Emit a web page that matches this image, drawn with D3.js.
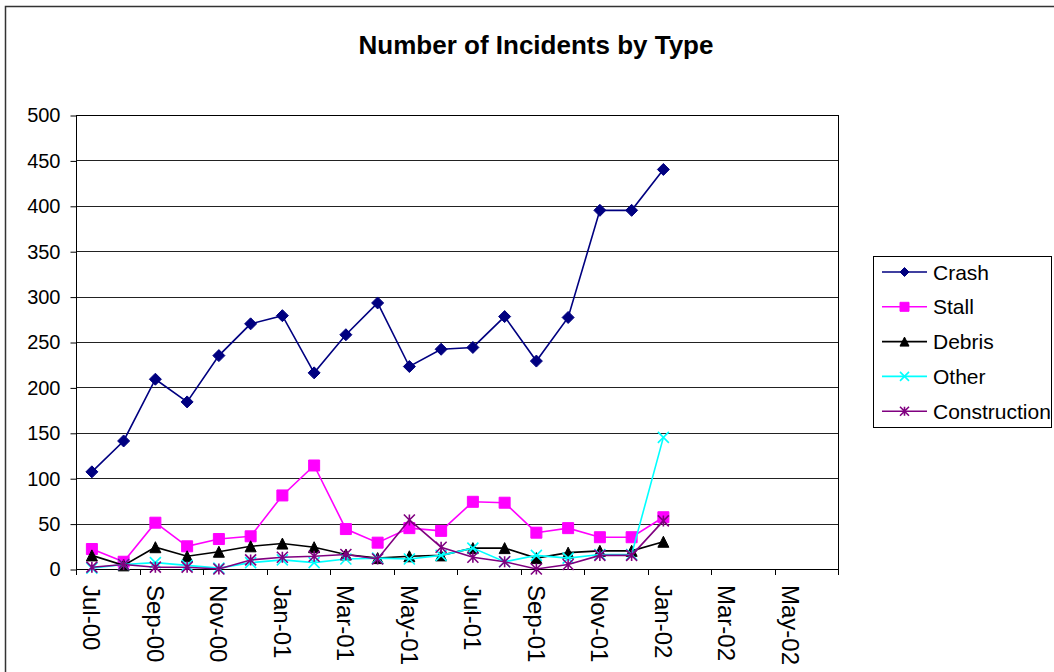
<!DOCTYPE html>
<html>
<head>
<meta charset="utf-8">
<script src="https://cdn.jsdelivr.net/npm/d3@7"></script>
<style>
    body { margin: 0; background: #fff; }
    svg { display: block; font-family: "Liberation Sans", Arial, sans-serif; }
</style>
</head>
<body>
<svg id="chart" width="1054" height="672"></svg>
<script>
    // months along the category axis (Jul-00 .. Jun-02)
    var months = ['Jul-00', 'Aug-00', 'Sep-00', 'Oct-00', 'Nov-00', 'Dec-00',
                  'Jan-01', 'Feb-01', 'Mar-01', 'Apr-01', 'May-01', 'Jun-01',
                  'Jul-01', 'Aug-01', 'Sep-01', 'Oct-01', 'Nov-01', 'Dec-01',
                  'Jan-02', 'Feb-02', 'Mar-02', 'Apr-02', 'May-02', 'Jun-02'];
    var monthLabels = ['Jul-00', 'Sep-00', 'Nov-00', 'Jan-01', 'Mar-01', 'May-01',
                       'Jul-01', 'Sep-01', 'Nov-01', 'Jan-02', 'Mar-02', 'May-02'];
    var yTicks = [0, 50, 100, 150, 200, 250, 300, 350, 400, 450, 500];

    var seriesNames = ['Crash', 'Stall', 'Debris', 'Other', 'Construction'];
    var crash = [107, 141, 209, 184, 235, 270, 279, 216, 258, 293, 223, 242, 244, 278, 229, 277, 395, 395, 440];
    var stall = [22, 8, 51, 25, 33, 36, 81, 114, 44, 29, 45, 42, 74, 73, 40, 45, 35, 35, 57];
    var debris = [15, 4, 24, 14, 19, 25, 28, 24, 16, 12, 14, 15, 23, 23, 12, 18, 20, 20, 30];
    var other = [1, 5, 7, 4, 1, 7, 10, 7, 11, 12, 11, 15, 23, 8, 15, 12, 16, 16, 145];
    var construction = [2, 5, 2, 2, 0, 10, 13, 14, 16, 11, 54, 24, 13, 8, 0, 5, 15, 15, 53];

    (function () {
        var colors = ['#000080', '#ff00ff', '#000000', '#00ffff', '#800080'];
        var symbols = ['diamond', 'square', 'triangle', 'cross', 'star'];

        var svg = d3.select('#chart');

        var plotLeft = 76, plotRight = 838, plotTop = 115, plotBottom = 569;

        var x = d3.scaleBand().domain(months).range([plotLeft, plotRight]);
        var y = d3.scaleLinear().domain([0, 500]).range([plotBottom, plotTop]);

        // outer chart border
        svg.append('rect')
            .attr('x', 5.5).attr('y', 6.5)
            .attr('width', 1060).attr('height', 700)
            .attr('fill', 'none').attr('stroke', '#333').attr('stroke-width', 1.5);

        svg.append('text')
            .attr('x', 536).attr('y', 54)
            .attr('text-anchor', 'middle')
            .style('font-size', '26px').style('font-weight', 'bold')
            .text('Number of Incidents by Type');

        // gridlines
        svg.append('g').selectAll('line')
            .data(yTicks)
            .enter().append('line')
            .attr('x1', plotLeft).attr('x2', plotRight)
            .attr('y1', function (d) { return Math.round(y(d)) + 0.5; })
            .attr('y2', function (d) { return Math.round(y(d)) + 0.5; })
            .attr('stroke', '#222').attr('stroke-width', 1);

        // plot area outline
        svg.append('rect')
            .attr('x', plotLeft + 0.5).attr('y', plotTop + 0.5)
            .attr('width', plotRight - plotLeft).attr('height', plotBottom - plotTop)
            .attr('fill', 'none').attr('stroke', '#000').attr('stroke-width', 1);

        // y axis
        var yAxis = svg.append('g')
            .attr('transform', 'translate(' + (plotLeft + 0.5) + ',0.5)')
            .call(d3.axisLeft(y).tickValues(yTicks).tickSize(6).tickPadding(10));
        yAxis.select('.domain').remove();
        yAxis.selectAll('text')
            .style('font-size', '20px')
            .style('font-family', '"Liberation Sans", Arial, sans-serif')
            .attr('fill', '#000');

        // x axis: ticks every 2 months on category boundaries
        var tickX = months.filter(function (m, i) { return i % 2 === 0; })
            .map(function (m) { return x(m); });
        tickX.push(plotRight);
        svg.append('g').selectAll('line')
            .data(tickX)
            .enter().append('line')
            .attr('x1', function (d) { return Math.round(d) + 0.5; })
            .attr('x2', function (d) { return Math.round(d) + 0.5; })
            .attr('y1', plotBottom).attr('y2', plotBottom + 6)
            .attr('stroke', '#000');

        svg.append('g').selectAll('text')
            .data(monthLabels)
            .enter().append('text')
            .attr('transform', function (d) {
                return 'translate(' + (x(d) + x.bandwidth() / 2) + ',' + (plotBottom + 16) + ') rotate(90)';
            })
            .attr('dy', '0.35em')
            .style('font-size', '24px')
            .text(function (d) { return d; });

        function markerPath(sym, size) {
            var h = size / 2;
            if (sym === 'diamond') return 'M0,' + (-h) + 'L' + h + ',0L0,' + h + 'L' + (-h) + ',0Z';
            if (sym === 'square') return 'M' + (-h) + ',' + (-h) + 'H' + h + 'V' + h + 'H' + (-h) + 'Z';
            if (sym === 'triangle') return 'M0,' + (-h) + 'L' + h + ',' + h + 'L' + (-h) + ',' + h + 'Z';
            if (sym === 'cross') return 'M' + (-h) + ',' + (-h) + 'L' + h + ',' + h + 'M' + h + ',' + (-h) + 'L' + (-h) + ',' + h;
            return 'M' + (-h) + ',' + (-h) + 'L' + h + ',' + h + 'M' + h + ',' + (-h) + 'L' + (-h) + ',' + h + 'M0,' + (-h) + 'V' + h;
        }

        function drawMarker(g, sym, color, size) {
            var filled = sym === 'diamond' || sym === 'square' || sym === 'triangle';
            g.append('path')
                .attr('d', markerPath(sym, size))
                .attr('fill', filled ? color : 'none')
                .attr('stroke', color)
                .attr('stroke-width', filled ? 1 : 1.6);
        }

        var allSeries = [crash, stall, debris, other, construction];
        var line = d3.line()
            .x(function (d, i) { return x(months[i]) + x.bandwidth() / 2; })
            .y(function (d) { return y(d); });

        allSeries.forEach(function (values, s) {
            var g = svg.append('g');
            g.append('path')
                .attr('d', line(values))
                .attr('fill', 'none')
                .attr('stroke', colors[s])
                .attr('stroke-width', 1.6);
            values.forEach(function (v, i) {
                var m = g.append('g')
                    .attr('transform', 'translate(' + (x(months[i]) + x.bandwidth() / 2) + ',' + y(v) + ')');
                drawMarker(m, symbols[s], colors[s], s === 0 ? 12 : 11);
            });
        });

        // legend
        var legend = svg.append('g');
        legend.append('rect')
            .attr('x', 873.5).attr('y', 256.5)
            .attr('width', 178).attr('height', 171)
            .attr('fill', '#fff').attr('stroke', '#000');
        seriesNames.forEach(function (name, i) {
            var ly = 272 + i * 34.8;
            legend.append('line')
                .attr('x1', 882).attr('x2', 927)
                .attr('y1', ly).attr('y2', ly)
                .attr('stroke', colors[i]).attr('stroke-width', 1.6);
            var m = legend.append('g').attr('transform', 'translate(904.5,' + ly + ')');
            drawMarker(m, symbols[i], colors[i], 9);
            legend.append('text')
                .attr('x', 933).attr('y', ly)
                .attr('dy', '0.36em')
                .style('font-size', '21px')
                .text(name);
        });
    })();
</script>
</body>
</html>
